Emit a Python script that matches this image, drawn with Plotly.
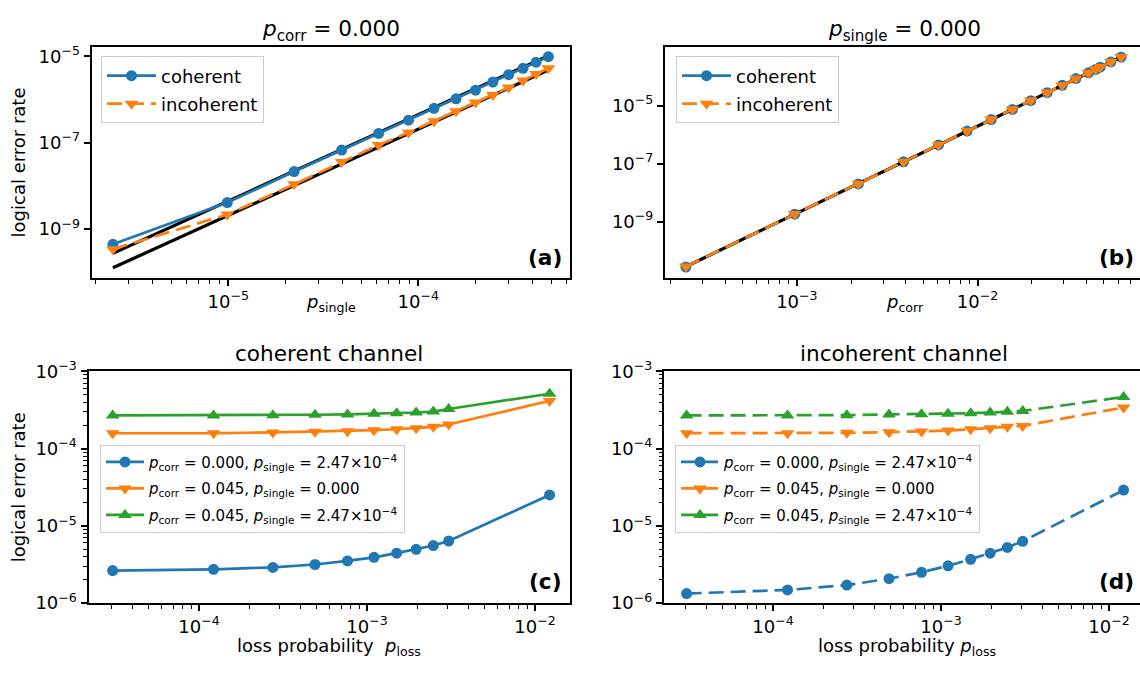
import plotly.graph_objects as go

# ---------------- data ----------------
# panel (a): p_corr = 0
p_single = [2.47e-6, 9.88e-6, 2.22e-5, 3.95e-5, 6.18e-5, 8.89e-5, 1.21e-4,
            1.58e-4, 2.00e-4, 2.47e-4, 2.99e-4, 3.56e-4, 4.17e-4, 4.84e-4]
a_coherent = [4.4e-10, 4.1e-9, 2.14e-8, 6.75e-8, 1.64e-7, 3.32e-7, 6.25e-7,
              1.04e-6, 1.65e-6, 2.54e-6, 3.77e-6, 5.30e-6, 7.35e-6, 9.84e-6]
a_incoherent = [3.4e-10, 2.16e-9, 1.08e-8, 3.57e-8, 8.87e-8, 1.73e-7, 3.16e-7,
                5.37e-7, 8.51e-7, 1.28e-6, 1.90e-6, 2.76e-6, 3.89e-6, 5.30e-6]
a_fit_x = [2.47e-6, 4.84e-4]
a_fit_coherent = [2.72e-10, 1.04e-5]
a_fit_incoherent = [1.26e-10, 4.83e-6]

# panel (b): p_single = 0
p_corr = [2.43e-4, 9.73e-4, 2.19e-3, 3.89e-3, 6.08e-3, 8.75e-3, 1.19e-2, 1.56e-2,
          1.97e-2, 2.43e-2, 2.94e-2, 3.50e-2, 4.11e-2, 4.50e-2, 4.77e-2, 5.47e-2, 6.23e-2]
b_coherent = [2.70e-11, 1.80e-9, 2.00e-8, 1.15e-7, 4.41e-7, 1.33e-6, 3.32e-6, 7.38e-6,
              1.48e-5, 2.80e-5, 5.01e-5, 8.59e-5, 1.36e-4, 1.78e-4, 2.12e-4, 3.21e-4, 4.68e-4]
b_incoherent = [2.80e-11, 1.84e-9, 2.03e-8, 1.17e-7, 4.46e-7, 1.35e-6, 3.36e-6, 7.45e-6,
                1.50e-5, 2.83e-5, 5.06e-5, 8.66e-5, 1.37e-4, 1.80e-4, 2.14e-4, 3.24e-4, 4.72e-4]
b_fit_x = [2.43e-4, 6.23e-2]
b_fit = [2.82e-11, 4.72e-4]

# panels (c), (d): loss
p_loss = [3.06e-5, 1.22e-4, 2.75e-4, 4.90e-4, 7.65e-4, 1.10e-3, 1.50e-3,
          1.96e-3, 2.48e-3, 3.06e-3, 1.22e-2]
c_blue = [2.64e-6, 2.74e-6, 2.90e-6, 3.16e-6, 3.52e-6, 3.91e-6, 4.43e-6,
          4.97e-6, 5.57e-6, 6.37e-6, 2.51e-5]
c_orange = [1.58e-4, 1.58e-4, 1.62e-4, 1.65e-4, 1.68e-4, 1.73e-4, 1.78e-4,
            1.83e-4, 1.91e-4, 2.05e-4, 4.14e-4]
c_green = [2.69e-4, 2.69e-4, 2.71e-4, 2.74e-4, 2.77e-4, 2.82e-4, 2.87e-4,
           2.93e-4, 3.01e-4, 3.25e-4, 5.13e-4]
d_blue = [1.33e-6, 1.48e-6, 1.71e-6, 2.07e-6, 2.51e-6, 3.04e-6, 3.69e-6,
          4.43e-6, 5.26e-6, 6.31e-6, 2.90e-5]
d_orange = [1.58e-4, 1.58e-4, 1.60e-4, 1.63e-4, 1.66e-4, 1.71e-4, 1.78e-4,
            1.83e-4, 1.91e-4, 1.96e-4, 3.41e-4]
d_green = [2.69e-4, 2.69e-4, 2.71e-4, 2.77e-4, 2.79e-4, 2.82e-4, 2.87e-4,
           2.93e-4, 2.99e-4, 3.07e-4, 4.65e-4]

series_names_ab = ["coherent", "incoherent"]
series_names_cd = [
    "<i>p</i><sub>corr</sub> = 0.000, <i>p</i><sub>single</sub> = 2.47×10<sup>−4</sup>",
    "<i>p</i><sub>corr</sub> = 0.045, <i>p</i><sub>single</sub> = 0.000",
    "<i>p</i><sub>corr</sub> = 0.045, <i>p</i><sub>single</sub> = 2.47×10<sup>−4</sup>",
]
titles = ["<i>p</i><sub>corr</sub> = 0.000", "<i>p</i><sub>single</sub> = 0.000",
          "coherent channel", "incoherent channel"]
xlabels = ["<i>p</i><sub>single</sub>", "<i>p</i><sub>corr</sub>",
           "loss probability\u00a0\u00a0<i>p</i><sub>loss</sub>",
           "loss probability <i>p</i><sub>loss</sub>"]
ylabel = "logical error rate"
panel_tags = ["(a)", "(b)", "(c)", "(d)"]

a_xticks = [1e-5, 1e-4]
a_xticktext = ["10<sup>−5</sup>", "10<sup>−4</sup>"]
ab_yticks = [1e-9, 1e-7, 1e-5]
ab_yticktext = ["10<sup>−9</sup>", "10<sup>−7</sup>", "10<sup>−5</sup>"]
b_xticks = [1e-3, 1e-2]
b_xticktext = ["10<sup>−3</sup>", "10<sup>−2</sup>"]
cd_xticks = [1e-4, 1e-3, 1e-2]
cd_xticktext = ["10<sup>−4</sup>", "10<sup>−3</sup>", "10<sup>−2</sup>"]
cd_yticks = [1e-6, 1e-5, 1e-4, 1e-3]
cd_yticktext = ["10<sup>−6</sup>", "10<sup>−5</sup>", "10<sup>−4</sup>", "10<sup>−3</sup>"]

# ---------------- style ----------------
W, H = 1140, 673
FONT = "DejaVu Sans"
BLUE, ORANGE, GREEN = "#1f77b4", "#ff7f0e", "#2ca02c"
LW = 2.7
DASH = "15px,7px"
MS = 11

minor_vals = [m * 10.0 ** e for e in range(-12, 1) for m in range(2, 10)]


def xdom(l, r):
    return [l / W, r / W]


def ydom(t, b):
    return [1 - b / H, 1 - t / H]


# axes pixel boxes (left, right, top, bottom)
boxes = {
    "a": (91.7, 569.5, 35, 274.5),
    "b": (665, 1140, 35, 274.5),
    "c": (88.5, 569.5, 371, 611),
    "d": (664, 1140, 371, 611),
}


def axis_style(tickvals, ticktext, rng, dom, minor, mirror=True, anchor=None):
    d = dict(
        type="log", range=rng, domain=dom, showline=True, linecolor="black",
        linewidth=2, mirror=mirror, ticks="outside", ticklen=6, tickwidth=1.5,
        tickcolor="black", showgrid=False, zeroline=False,
        tickfont=dict(family=FONT, size=18, color="black"),
        tickmode="array", tickvals=tickvals, ticktext=ticktext,
    )
    if minor:
        d["minor"] = dict(ticks="outside", ticklen=3.5, tickwidth=1, tickcolor="black",
                          tickmode="array", tickvals=minor, showgrid=False)
    if anchor:
        d["anchor"] = anchor
    return d


fig = go.Figure()

# (a)
for fy in [a_fit_coherent, a_fit_incoherent]:
    fig.add_trace(go.Scatter(x=a_fit_x, y=fy, mode="lines",
                             line=dict(color="black", width=3.2), showlegend=False,
                             xaxis="x", yaxis="y"))
fig.add_trace(go.Scatter(x=p_single, y=a_coherent, mode="lines+markers", name=series_names_ab[0],
                         line=dict(color=BLUE, width=LW),
                         marker=dict(symbol="circle", size=MS, color=BLUE),
                         xaxis="x", yaxis="y", legend="legend", legendgroup="a1"))
fig.add_trace(go.Scatter(x=p_single, y=a_incoherent, mode="lines+markers", name=series_names_ab[1],
                         line=dict(color=ORANGE, width=LW, dash=DASH),
                         marker=dict(symbol="triangle-down", size=MS + 1, color=ORANGE),
                         xaxis="x", yaxis="y", legend="legend", legendgroup="a2"))

# (b)
fig.add_trace(go.Scatter(x=p_corr, y=b_coherent, mode="lines+markers", name=series_names_ab[0],
                         line=dict(color=BLUE, width=LW),
                         marker=dict(symbol="circle", size=MS, color=BLUE),
                         xaxis="x2", yaxis="y2", legend="legend2", legendgroup="b1"))
fig.add_trace(go.Scatter(x=b_fit_x, y=b_fit, mode="lines",
                         line=dict(color="black", width=3), showlegend=False,
                         xaxis="x2", yaxis="y2"))
fig.add_trace(go.Scatter(x=p_corr, y=b_incoherent, mode="lines+markers", name=series_names_ab[1],
                         line=dict(color=ORANGE, width=LW, dash=DASH),
                         marker=dict(symbol="triangle-down", size=MS + 1, color=ORANGE),
                         xaxis="x2", yaxis="y2", legend="legend2", legendgroup="b2"))

# (c)
for i, (yv, col, sym, nm) in enumerate(zip([c_blue, c_orange, c_green], [BLUE, ORANGE, GREEN],
                                           ["circle", "triangle-down", "triangle-up"], series_names_cd)):
    fig.add_trace(go.Scatter(x=p_loss, y=yv, mode="lines+markers", name=nm,
                             line=dict(color=col, width=LW),
                             marker=dict(symbol=sym, size=MS if sym == "circle" else MS + 1, color=col),
                             xaxis="x3", yaxis="y3", legend="legend3", legendgroup="c%d" % i))
# (d)
for i, (yv, col, sym, nm) in enumerate(zip([d_blue, d_orange, d_green], [BLUE, ORANGE, GREEN],
                                           ["circle", "triangle-down", "triangle-up"], series_names_cd)):
    fig.add_trace(go.Scatter(x=p_loss, y=yv, mode="lines+markers", name=nm,
                             line=dict(color=col, width=LW, dash=DASH),
                             marker=dict(symbol=sym, size=MS if sym == "circle" else MS + 1, color=col),
                             xaxis="x4", yaxis="y4", legend="legend4", legendgroup="d%d" % i))

la, ra, ta, ba = boxes["a"]
lb, rb, tb, bb = boxes["b"]
lc, rc, tc, bc = boxes["c"]
ld, rd, td, bd = boxes["d"]

legend_ab = dict(bgcolor="white", bordercolor="#cccccc", borderwidth=1,
                 font=dict(family=FONT, size=18, color="black"),
                 xanchor="left", yanchor="top", itemwidth=49, tracegroupgap=1.6,
                 xref="paper", yref="paper")
legend_cd = dict(bgcolor="white", bordercolor="#cccccc", borderwidth=1,
                 font=dict(family=FONT, size=15, color="black"),
                 xanchor="left", yanchor="top", itemwidth=38, tracegroupgap=4,
                 xref="paper", yref="paper")

fig.update_layout(
    width=W, height=H, margin=dict(l=0, r=0, t=0, b=0),
    paper_bgcolor="white", plot_bgcolor="white",
    font=dict(family=FONT, size=18, color="black"),
    xaxis=axis_style(a_xticks, a_xticktext, [-5.719, -3.204], xdom(la, ra), minor_vals, anchor="y"),
    yaxis=axis_style(ab_yticks, ab_yticktext, [-10.14, -4.777], ydom(ta, ba), None, anchor="x"),
    xaxis2=axis_style(b_xticks, b_xticktext, [-3.730, -1.101], xdom(lb, rb), minor_vals, anchor="y2"),
    yaxis2=axis_style(ab_yticks, ab_yticktext, [-10.95, -2.97], ydom(tb, bb), None, mirror=False, anchor="x2"),
    xaxis3=axis_style(cd_xticks, cd_xticktext, [-4.658, -1.795], xdom(lc, rc), minor_vals, anchor="y3"),
    yaxis3=axis_style(cd_yticks, cd_yticktext, [-6, -3], ydom(tc, bc), minor_vals, anchor="x3"),
    xaxis4=axis_style(cd_xticks, cd_xticktext, [-4.649, -1.816], xdom(ld, rd), minor_vals, anchor="y4"),
    yaxis4=axis_style(cd_yticks, cd_yticktext, [-6, -3], ydom(td, bd), minor_vals, mirror=False, anchor="x4"),
    legend=dict(x=101 / W, y=1 - 45 / H, **legend_ab),
    legend2=dict(x=676 / W, y=1 - 45 / H, **legend_ab),
    legend3=dict(x=100 / W, y=1 - 447 / H, **legend_cd),
    legend4=dict(x=675 / W, y=1 - 447 / H, **legend_cd),
)

ann = []
# titles
for txt, cx, cy in zip(titles, [(la + ra) / 2, (lb + 1144) / 2, (lc + rc) / 2, (ld + 1144) / 2],
                       [18, 18, 353, 353]):
    ann.append(dict(text=txt, x=cx / W, y=1 - cy / H, xref="paper", yref="paper",
                    xanchor="center", yanchor="middle", showarrow=False,
                    font=dict(family=FONT, size=21.6, color="black")))
# x labels
for txt, cx, cy in zip(xlabels, [(la + ra) / 2, 905, (lc + rc) / 2, 907],
                       [300, 300, 656, 656]):
    ann.append(dict(text=txt, x=cx / W, y=1 - cy / H, xref="paper", yref="paper",
                    xanchor="center", yanchor="middle", showarrow=False,
                    font=dict(family=FONT, size=18, color="black")))
# y labels
for cy in [(ta + ba) / 2, (tc + bc) / 2]:
    ann.append(dict(text=ylabel, x=18 / W, y=1 - cy / H, xref="paper", yref="paper",
                    xanchor="center", yanchor="middle", showarrow=False, textangle=-90,
                    font=dict(family=FONT, size=18, color="black")))
# panel tags
for tag, rx, by in zip(panel_tags, [564, 1136, 564, 1136], [253, 253, 589, 589]):
    ann.append(dict(text="<b>" + tag + "</b>", x=rx / W, y=1 - by / H, xref="paper", yref="paper",
                    xanchor="right", yanchor="middle", showarrow=False,
                    font=dict(family=FONT, size=21.6, color="black")))
fig.update_layout(annotations=ann)

fig.write_html("out.html")
